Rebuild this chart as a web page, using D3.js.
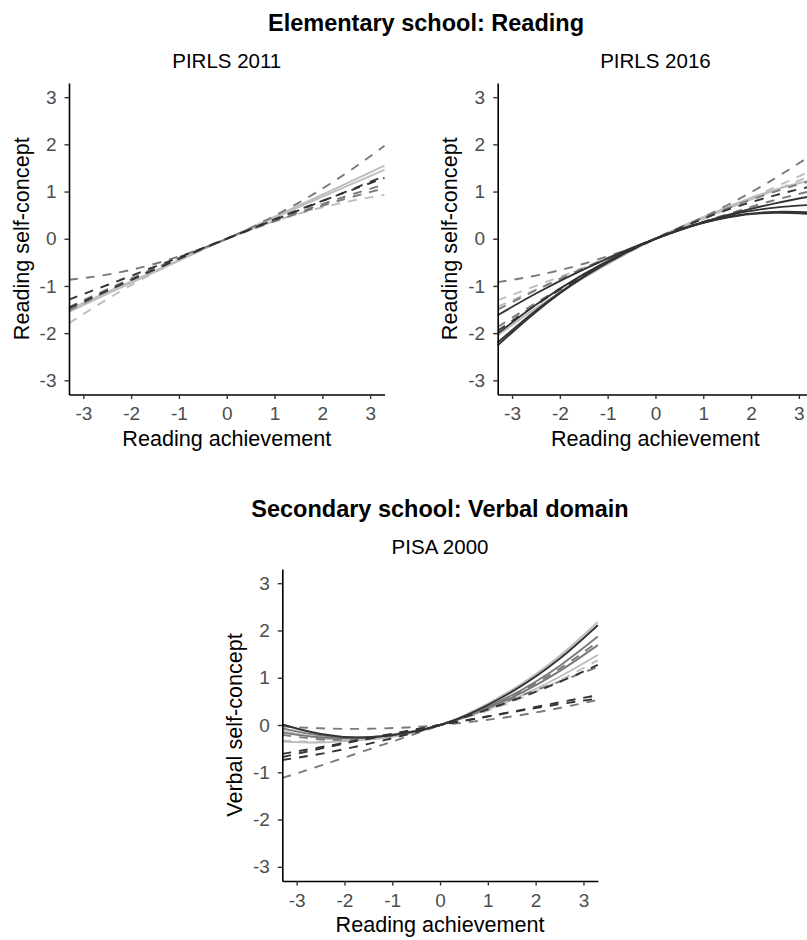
<!DOCTYPE html>
<html>
<head>
<meta charset="utf-8">
<script src="https://cdn.jsdelivr.net/npm/d3@7"></script>
<style>
  html, body { margin: 0; padding: 0; background: #fff; }
  svg { display: block; font-family: "Liberation Sans", Arial, Helvetica, sans-serif; }
</style>
</head>
<body>
<svg id="chart" width="807" height="940"></svg>
<script>
// ---------------- data ----------------
const xGrid = [-3.3, -2.5, -1.5, -0.5, 0, 0.5, 1.5, 2.5, 3.3];
const tickValues = [-3, -2, -1, 0, 1, 2, 3];

// PIRLS 2011 (reading self-concept vs reading achievement)
const pirls2011Curves = [
  [-0.87, -0.76, -0.53, -0.20, 0, 0.23, 0.76, 1.39, 1.97],
  [-1.55, -1.17, -0.70, -0.23, 0, 0.23, 0.70, 1.17, 1.55],
  [-1.50, -1.13, -0.68, -0.22, 0, 0.22, 0.67, 1.11, 1.46],
  [-1.79, -1.28, -0.71, -0.22, 0, 0.20, 0.53, 0.78, 0.93],
  [-1.52, -1.11, -0.63, -0.20, 0, 0.19, 0.54, 0.85, 1.07],
  [-1.45, -1.07, -0.62, -0.20, 0, 0.19, 0.56, 0.90, 1.15],
  [-1.29, -0.98, -0.59, -0.20, 0, 0.20, 0.60, 1.00, 1.33],
  [-1.47, -1.10, -0.65, -0.21, 0, 0.21, 0.61, 0.99, 1.29]
];
const pirls2011Shade = ["mid", "light", "light", "light", "mid", "mid", "dark", "dark"];
const pirls2011Type  = ["dashed", "solid", "solid", "dashed", "dashed", "dashed", "dashed", "dashed"];

// PIRLS 2016
const pirls2016Curves = [
  [-2.05, -1.47, -0.83, -0.26, 0, 0.24, 0.67, 1.04, 1.25],
  [-1.30, -1.00, -0.61, -0.21, 0, 0.21, 0.64, 1.09, 1.46],
  [-1.44, -1.08, -0.64, -0.21, 0, 0.21, 0.63, 1.03, 1.35],
  [-0.92, -0.78, -0.53, -0.20, 0, 0.22, 0.71, 1.28, 1.80],
  [-1.87, -1.36, -0.77, -0.24, 0, 0.23, 0.64, 1.00, 1.24],
  [-1.50, -1.09, -0.62, -0.20, 0, 0.19, 0.52, 0.82, 1.02],
  [-1.95, -1.40, -0.78, -0.24, 0, 0.22, 0.61, 0.92, 1.12],
  [-1.62, -1.16, -0.65, -0.20, 0, 0.18, 0.50, 0.75, 0.91],
  [-2.01, -1.40, -0.75, -0.22, 0, 0.19, 0.49, 0.66, 0.72],
  [-2.20, -1.52, -0.80, -0.23, 0, 0.19, 0.46, 0.57, 0.56],
  [-2.26, -1.55, -0.81, -0.23, 0, 0.19, 0.45, 0.55, 0.52]
];
const pirls2016Shade = ["light", "light", "light", "mid", "mid", "mid", "dark", "dark", "dark", "dark", "dark"];
const pirls2016Type  = ["solid", "dashed", "dashed", "dashed", "dashed", "dashed", "dashed", "solid", "solid", "solid", "solid"];

// PISA 2000 (verbal self-concept vs reading achievement)
const pisa2000Curves = [
  [-0.12, -0.28, -0.31, -0.15, 0, 0.20, 0.74, 1.46, 2.18],
  [-0.35, -0.37, -0.30, -0.13, 0, 0.15, 0.53, 1.02, 1.48],
  [-0.33, -0.35, -0.28, -0.12, 0, 0.14, 0.49, 0.94, 1.37],
  [-0.07, -0.22, -0.26, -0.13, 0, 0.17, 0.63, 1.25, 1.87],
  [-0.16, -0.26, -0.26, -0.12, 0, 0.16, 0.58, 1.14, 1.69],
  [-0.03, -0.07, -0.08, -0.04, 0, 0.05, 0.18, 0.36, 0.53],
  [-0.21, -0.30, -0.29, -0.13, 0, 0.17, 0.61, 1.19, 1.76],
  [-1.12, -0.86, -0.52, -0.18, 0, 0.18, 0.55, 0.92, 1.23],
  [-0.74, -0.61, -0.40, -0.15, 0, 0.16, 0.51, 0.91, 1.27],
  [-0.61, -0.47, -0.28, -0.09, 0, 0.09, 0.28, 0.48, 0.63],
  [-0.68, -0.50, -0.29, -0.10, 0, 0.09, 0.27, 0.44, 0.56],
  [0.01, -0.19, -0.26, -0.13, 0, 0.18, 0.70, 1.40, 2.11]
];
const pisa2000Shade = ["light", "light", "light", "mid", "mid", "mid", "mid", "mid", "dark", "dark", "dark", "dark"];
const pisa2000Type  = ["solid", "solid", "dashed", "solid", "solid", "dashed", "dashed", "dashed", "dashed", "dashed", "dashed", "solid"];

const sectionTitles = ["Elementary school: Reading", "Secondary school: Verbal domain"];
const panelTitles = ["PIRLS 2011", "PIRLS 2016", "PISA 2000"];
const xTitle = "Reading achievement";
const yTitles = ["Reading self-concept", "Reading self-concept", "Verbal self-concept"];

// ---------------- drawing ----------------
const svg = d3.select("#chart");
const shadeColor = d3.scaleOrdinal().domain(["dark", "mid", "light"]).range(["#333333", "#7a7a7a", "#bdbdbd"]);
const dashStyle = d3.scaleOrdinal().domain(["solid", "dashed"]).range(["none", "9,8"]);
const FONT = "'Liberation Sans', Arial, Helvetica, sans-serif";

function drawPanel(cfg) {
  const { left, top, width, height, curves, shades, types, title, yTitle } = cfg;
  const x = d3.scaleLinear().domain([-3.3, 3.3]).range([left, left + width]);
  const y = d3.scaleLinear().domain([-3.3, 3.3]).range([top + height, top]);
  const g = svg.append("g");

  // lines: draw light first, then mid, then dark
  const order = d3.range(curves.length);
  const rank = { light: 0, mid: 1, dark: 2 };
  order.sort((a, b) => rank[shades[a]] - rank[shades[b]] || a - b);
  const line = d3.line().x((d, i) => x(xGrid[i])).y(d => y(d)).curve(d3.curveNatural);
  g.selectAll("path.curve").data(order).join("path")
    .attr("class", "curve")
    .attr("d", i => line(curves[i]))
    .attr("fill", "none")
    .attr("stroke", i => shadeColor(shades[i]))
    .attr("stroke-width", 1.9)
    .attr("stroke-dasharray", i => dashStyle(types[i]));

  // axes
  const fmt = d => String(d);
  const xAxis = g.append("g").attr("transform", `translate(0,${top + height})`)
    .call(d3.axisBottom(x).tickValues(tickValues).tickFormat(fmt).tickSize(4.5).tickPadding(8).tickSizeOuter(0));
  const yAxis = g.append("g").attr("transform", `translate(${left},0)`)
    .call(d3.axisLeft(y).tickValues(tickValues).tickFormat(fmt).tickSize(4.5).tickPadding(8).tickSizeOuter(0));
  [xAxis, yAxis].forEach(a => {
    a.select(".domain").attr("stroke", "#000").attr("stroke-width", 1.6);
    a.selectAll(".tick line").attr("stroke", "#333").attr("stroke-width", 1.4);
    a.selectAll(".tick text").attr("fill", "#4d4d4d").style("font-size", "19px").style("font-family", FONT);
  });

  // titles
  g.append("text").attr("x", left + width / 2).attr("y", top - 15)
    .attr("text-anchor", "middle").style("font-size", "20.5px").style("font-family", FONT)
    .attr("fill", "#000").text(title);
  g.append("text").attr("x", left + width / 2).attr("y", top + height + 51)
    .attr("text-anchor", "middle").style("font-size", "21.6px").style("font-family", FONT)
    .attr("fill", "#000").text(xTitle);
  g.append("text")
    .attr("transform", `translate(${left - 40.5},${top + height / 2}) rotate(-90)`)
    .attr("text-anchor", "middle").style("font-size", "21.6px").style("font-family", FONT)
    .attr("fill", "#000").text(yTitle);
}

drawPanel({ left: 69, top: 83, width: 315.5, height: 311.5,
  curves: pirls2011Curves, shades: pirls2011Shade, types: pirls2011Type,
  title: panelTitles[0], yTitle: yTitles[0] });
drawPanel({ left: 497.7, top: 83, width: 315.5, height: 311.5,
  curves: pirls2016Curves, shades: pirls2016Shade, types: pirls2016Type,
  title: panelTitles[1], yTitle: yTitles[1] });
drawPanel({ left: 282.3, top: 569, width: 315.5, height: 312,
  curves: pisa2000Curves, shades: pisa2000Shade, types: pisa2000Type,
  title: panelTitles[2], yTitle: yTitles[2] });

svg.append("text").attr("x", 426).attr("y", 31).attr("text-anchor", "middle")
  .style("font-size", "23.5px").style("font-weight", "bold").style("font-family", FONT)
  .attr("fill", "#000").text(sectionTitles[0]);
svg.append("text").attr("x", 440).attr("y", 517).attr("text-anchor", "middle")
  .style("font-size", "23.5px").style("font-weight", "bold").style("font-family", FONT)
  .attr("fill", "#000").text(sectionTitles[1]);
</script>
</body>
</html>
